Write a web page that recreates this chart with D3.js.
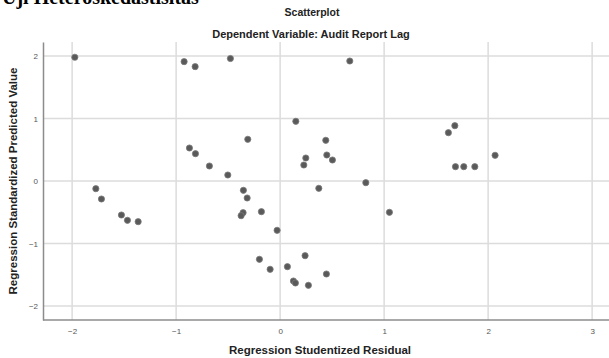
<!DOCTYPE html>
<html>
<head>
<meta charset="utf-8">
<script src="https://cdn.jsdelivr.net/npm/d3@7"></script>
<style>
  body { margin: 0; background: #fff; }
  svg { display: block; }
</style>
</head>
<body>
<div id="chart"></div>
<script>
// residual (x) and predicted value (y)
const residual = [
  -1.974, -0.923, -0.817, -0.478, 0.67, 0.151, -0.311, -0.872, -0.814, -0.68,
  0.439, 0.247, 0.228, 0.449, 0.503, 1.68, 1.618, 2.067, 1.686, 1.766,
  1.872, -0.503, -1.772, -1.718, -1.526, -1.468, -1.365, -0.353, -0.317, -0.356,
  -0.375, -0.18, -0.029, 0.372, -0.199, -0.096, 0.07, 0.24, 0.128, 0.147,
  0.272, 0.445, 0.824, 1.051
];
const predicted = [
  1.98, 1.91, 1.83, 1.96, 1.92, 0.955, 0.667, 0.528, 0.437, 0.24,
  0.651, 0.368, 0.256, 0.416, 0.336, 0.885, 0.773, 0.411, 0.229, 0.229,
  0.229, 0.096, -0.123, -0.288, -0.544, -0.629, -0.651, -0.149, -0.272, -0.507,
  -0.555, -0.491, -0.789, -0.117, -1.253, -1.413, -1.371, -1.195, -1.6, -1.632,
  -1.669, -1.488, -0.027, -0.501
];
const xTicks = [-2, -1, 0, 1, 2, 3];
const yTicks = [-2, -1, 0, 1, 2];

const width = 609, height = 358;
const plotLeft = 43, plotTop = 42, plotBottom = 320;

const svg = d3.select("#chart").append("svg")
  .attr("width", width)
  .attr("height", height);

// heading from the document, mostly cut off at the top
svg.append("text")
  .attr("x", 2)
  .attr("y", 4)
  .style("font-family", "'Liberation Serif', 'DejaVu Serif', serif")
  .style("font-weight", "bold")
  .style("font-size", "20px")
  .style("fill", "#000")
  .text("Uji Heteroskedastisitas");

const x = d3.scaleLinear().domain([-2.28, 3.5]).range([plotLeft, plotLeft + 5.78 * 104]);
const y = d3.scaleLinear().domain([-2.224, 2.224]).range([plotBottom, plotTop]);

const grid = svg.append("g");
grid.selectAll("line.v")
  .data(xTicks)
  .enter()
  .append("line")
  .attr("class", "v")
  .attr("x1", (d) => x(d)).attr("x2", (d) => x(d))
  .attr("y1", plotTop).attr("y2", plotBottom)
  .attr("stroke", "#dcdcdc")
  .attr("stroke-width", 1.5);
grid.selectAll("line.h")
  .data(yTicks)
  .enter()
  .append("line")
  .attr("class", "h")
  .attr("x1", plotLeft).attr("x2", width)
  .attr("y1", (d) => y(d)).attr("y2", (d) => y(d))
  .attr("stroke", "#dcdcdc")
  .attr("stroke-width", 1.5);

// axes without tick marks, like SPSS
const xAxis = svg.append("g")
  .attr("transform", `translate(0,${plotBottom})`)
  .call(d3.axisBottom(x).tickValues(xTicks).tickSize(0).tickPadding(8).tickFormat(d3.format("d")));
const yAxis = svg.append("g")
  .attr("transform", `translate(${plotLeft},0)`)
  .call(d3.axisLeft(y).tickValues(yTicks).tickSize(0).tickPadding(5).tickFormat(d3.format("d")));

[xAxis, yAxis].forEach((a) => {
  a.select(".domain").attr("stroke", "#8c8c8c").attr("stroke-width", 1.5);
  a.selectAll("text")
    .style("font-family", "Arial, 'Liberation Sans', sans-serif")
    .style("font-size", "8px")
    .style("fill", "#555");
});
xAxis.select(".domain").attr("d", `M${plotLeft},0H${width}`);

const pts = residual.map((r, i) => ({ r: r, p: predicted[i] }));
svg.append("g")
  .selectAll("circle")
  .data(pts)
  .enter()
  .append("circle")
  .attr("cx", (d) => x(d.r))
  .attr("cy", (d) => y(d.p))
  .attr("r", 3.1)
  .attr("fill", "#5a5a5a")
  .attr("stroke", "#7a7a7a")
  .attr("stroke-width", 0.8);

const titleFont = "Arial, 'Liberation Sans', sans-serif";
svg.append("text")
  .attr("x", 312).attr("y", 16)
  .attr("text-anchor", "middle")
  .style("font-family", titleFont).style("font-weight", "bold").style("font-size", "10.5px")
  .style("fill", "#222")
  .text("Scatterplot");
svg.append("text")
  .attr("x", 311).attr("y", 38)
  .attr("text-anchor", "middle")
  .style("font-family", titleFont).style("font-weight", "bold").style("font-size", "11px")
  .style("fill", "#222")
  .text("Dependent Variable: Audit Report Lag");
svg.append("text")
  .attr("x", 320).attr("y", 354)
  .attr("text-anchor", "middle")
  .style("font-family", titleFont).style("font-weight", "bold").style("font-size", "11.5px")
  .style("fill", "#222")
  .text("Regression Studentized Residual");
svg.append("text")
  .attr("transform", `translate(17,${(plotTop + plotBottom) / 2}) rotate(-90)`)
  .attr("text-anchor", "middle")
  .style("font-family", titleFont).style("font-weight", "bold").style("font-size", "11.5px")
  .style("fill", "#222")
  .text("Regression Standardized Predicted Value");
</script>
</body>
</html>
